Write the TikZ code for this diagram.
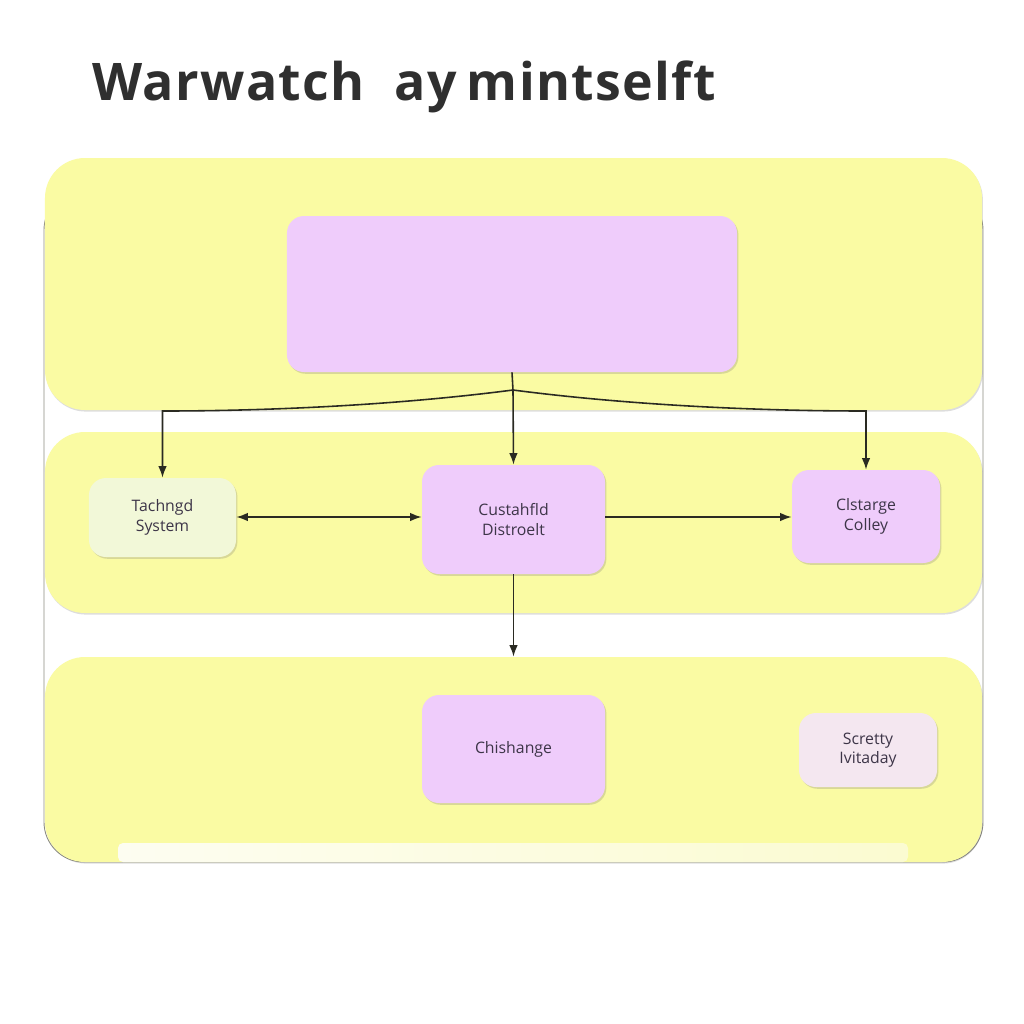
\documentclass[tikz,border=0pt]{standalone}
\usepackage{fontspec}
\setmainfont{Open Sans}
\newfontfamily\titlefont{Open Sans}[LetterSpace=2.6]
\usetikzlibrary{arrows.meta,shadows}
\definecolor{panelyel}{HTML}{FAFBA3}
\definecolor{boxlila}{HTML}{EFCCFB}
\definecolor{tachfill}{HTML}{F2F8D8}
\definecolor{scrfill}{HTML}{F4E7F0}
\definecolor{stripfill}{HTML}{FBFBDC}
\definecolor{framegray}{HTML}{8C8C82}
\definecolor{txtdark}{HTML}{3D3548}
\definecolor{linedark}{HTML}{2A2A22}
\definecolor{titlegray}{HTML}{2F2F2F}
\tikzset{
  panel/.style={fill=panelyel,rounded corners=8mm,inner sep=0pt,minimum width=187.4mm,
    drop shadow={shadow xshift=0.5pt,shadow yshift=-0.9pt,opacity=0.22,fill=black!60}},
  box/.style={fill=boxlila,rounded corners=3.4mm,inner sep=0pt,align=center,
    text=txtdark,font=\fontsize{9}{11}\selectfont,
    drop shadow={shadow xshift=0.8pt,shadow yshift=-1pt,opacity=0.25,fill=black!55}},
  link/.style={draw=linedark,line width=0.9pt}
}
\begin{document}
\begin{tikzpicture}[x=0.2mm,y=-0.2mm,>={Latex[length=2.3mm,width=1.7mm]}]
  \useasboundingbox[fill=white] (0,0) rectangle (1024,1024);
  % titulo
  \node[anchor=base west,inner sep=0pt,text=titlegray,font=\titlefont\bfseries\fontsize{29.5}{36}\selectfont]
    (title) at (92,100) {Warwatch\hspace{0.3em} ay\hspace{-0.1em} mintselft};
  % marco exterior
  \draw[framegray,line width=0.5pt,rounded corners=8mm] (44,190) rectangle (983,862);
  % bandas
  \node[panel,minimum height=50.4mm] (band1) at (513.5,284) {};
  \node[panel,minimum height=36.2mm] (band2) at (513.5,522.5) {};
  \node[panel,minimum height=41mm] (band3) at (513.5,759.5) {};
  \shade[left color=white!60!stripfill,right color=stripfill!80!panelyel,rounded corners=1mm]
    (118,843) rectangle (908,862);
  % cajas
  \node[box,minimum width=90mm,minimum height=31.2mm] (top) at (512,294) {};
  \node[box,fill=tachfill,minimum width=29.4mm,minimum height=15.8mm] (tach) at (162.5,517.5) {Tachngd\\System};
  \node[box,minimum width=36.6mm,minimum height=21.8mm] (cust) at (513.5,519.5) {Custahfld\\Distroelt};
  \node[box,minimum width=29.6mm,minimum height=18.6mm] (clst) at (866,516.5) {Clstarge\\Colley};
  \node[box,minimum width=36.6mm,minimum height=21.6mm] (chis) at (513.5,749) {Chishange};
  \node[box,fill=scrfill,minimum width=27.6mm,minimum height=14.8mm] (scre) at (868,750) {Scretty\\Ivitaday};
  % conexiones
  \coordinate (split) at (513,390);
  \coordinate (lev) at (0,411);
  \coordinate (lk) at (tach.north |- lev);
  \coordinate (rk) at (clst.north |- lev);
  \draw[link] (top.south) -- (split);
  \draw[link,->] (split) .. controls (390,406) and (260,411) .. (lk) -- (tach.north);
  \draw[link,->] (split) .. controls (636,406) and (766,411) .. (rk) -- (clst.north);
  \draw[link,->] (split) -- (cust.north);
  \draw[link,<->] (tach.east |- 0,517) -- (cust.west |- 0,517);
  \draw[link,->] (cust.east |- 0,517) -- (clst.west |- 0,517);
  \draw[link,->] (cust.south) -- (cust.south |- band3.north);
\end{tikzpicture}
\end{document}
